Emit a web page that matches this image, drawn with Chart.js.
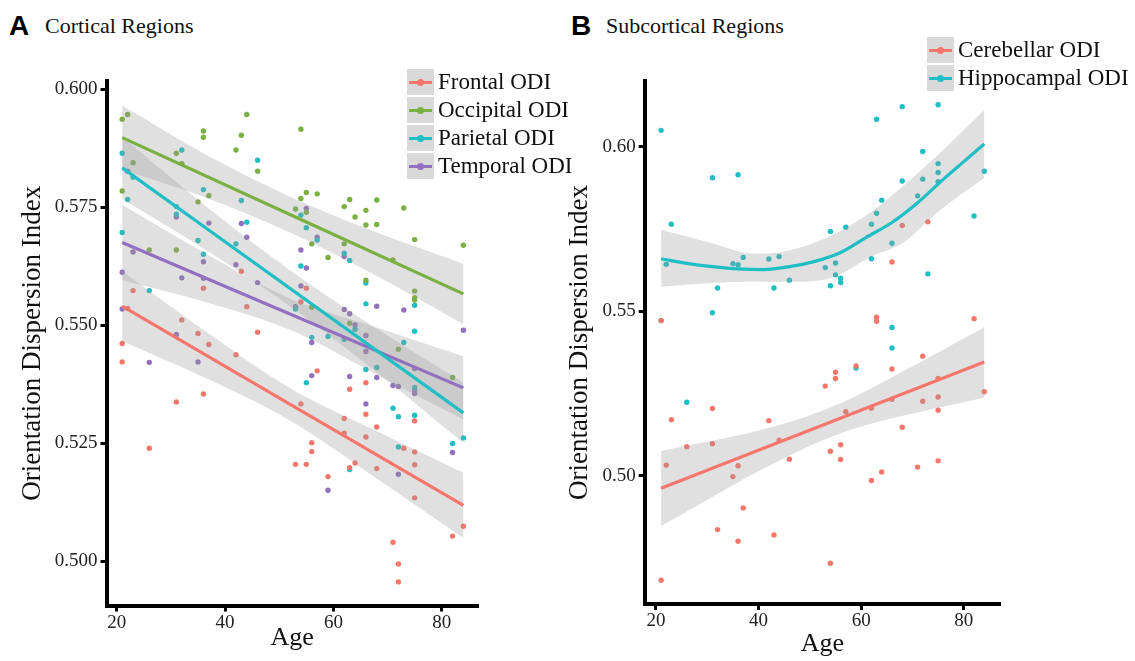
<!DOCTYPE html>
<html>
<head>
<meta charset="utf-8">
<script src="https://cdn.jsdelivr.net/npm/chart.js@4.4.1/dist/chart.umd.min.js"></script>
<style>
  body { margin: 0; background: #fff; width: 1135px; height: 661px; position: relative; overflow: hidden; font-family: "Liberation Serif", serif; }
  canvas { position: absolute; top: 0; }
  #chartA { left: 0; }
  #chartB { left: 540px; }
  .tag { position: absolute; font-family: "Liberation Sans", Arial, sans-serif; font-weight: bold; font-size: 28px; line-height: 28px; color: #000; }
  .ttl { position: absolute; font-size: 22px; line-height: 22px; color: #111; }
  .legend { position: absolute; }
  .key { display: flex; align-items: center; height: 28px; }
  .swatch { width: 27px; height: 26px; background: #d9d9d9; position: relative; margin-right: 4px; }
  .swatch i { position: absolute; left: 2px; right: 2px; top: 11.5px; height: 3px; }
  .swatch b { position: absolute; left: 10px; top: 9.5px; width: 7px; height: 7px; border-radius: 50%; }
  .key span { font-size: 23px; color: #111; white-space: nowrap; }
</style>
</head>
<body>
<div class="tag" style="left:9px;top:12px">A</div>
<div class="ttl" style="left:45px;top:15px">Cortical Regions</div>
<div class="tag" style="left:571px;top:12px">B</div>
<div class="ttl" style="left:606px;top:15px">Subcortical Regions</div>
<canvas id="chartA" width="500" height="661"></canvas>
<canvas id="chartB" width="595" height="661"></canvas>
<div class="legend" id="legendA" style="left:407px;top:68px"></div>
<div class="legend" id="legendB" style="left:927px;top:36px"></div>
<script>
const FONT = '"Liberation Serif", "Times New Roman", serif';

const ageTicks = [20, 40, 60, 80];
const odiTicksA = [0.500, 0.525, 0.550, 0.575, 0.600];
const odiTicksB = [0.50, 0.55, 0.60];

// ---- panel A: cortical regions ----
const corticalNames = ['Frontal ODI', 'Occipital ODI', 'Parietal ODI', 'Temporal ODI'];
const corticalColors = ['#F5776B', '#7AB042', '#20BEC5', '#9370BF'];

const frontalPts = [[21,0.5461],[21,0.5422],[22,0.5535],[23,0.5573],[26,0.5239],[31,0.5337],[32,0.5511],[35,0.5482],[36,0.5578],[36,0.5354],[37,0.5459],[42,0.5437],[43,0.5614],[44,0.5539],[46,0.5485],[53,0.5205],[54,0.5549],[54,0.5333],[55,0.5578],[55,0.5205],[56,0.5251],[56,0.5232],[57,0.5403],[59,0.5179],[62,0.5302],[62,0.5271],[63,0.5364],[63,0.5198],[64,0.5208],[66,0.5378],[66,0.5311],[66,0.5263],[68,0.5284],[68,0.5196],[71,0.5040],[72,0.4994],[72,0.4956],[73,0.5239],[75,0.5297],[75,0.5231],[75,0.5204],[75,0.5134],[82,0.5053],[84,0.5074]];
const occipitalPts = [[21,0.5936],[21,0.5784],[22,0.5946],[23,0.5844],[26,0.5659],[31,0.5864],[31,0.5659],[32,0.5842],[35,0.5761],[36,0.5911],[36,0.5898],[37,0.5774],[42,0.5871],[43,0.5902],[44,0.5946],[46,0.5826],[53,0.5746],[54,0.5915],[54,0.5768],[55,0.5781],[55,0.5739],[56,0.5672],[56,0.5538],[57,0.5778],[59,0.5643],[62,0.5751],[62,0.5672],[63,0.5766],[63,0.5504],[64,0.5729],[66,0.5743],[66,0.5712],[66,0.5595],[68,0.5765],[68,0.5713],[71,0.5638],[72,0.5449],[73,0.5748],[75,0.5681],[75,0.5572],[75,0.5558],[75,0.5553],[82,0.5389],[84,0.5669]];
const parietalPts = [[21,0.5864],[21,0.5696],[22,0.5766],[23,0.5813],[26,0.5573],[31,0.5751],[31,0.5735],[32,0.5871],[35,0.5679],[36,0.5787],[36,0.5650],[42,0.5672],[43,0.5764],[44,0.5718],[46,0.5849],[53,0.5534],[54,0.5733],[54,0.5625],[55,0.5706],[55,0.5378],[56,0.5474],[57,0.5680],[59,0.5476],[62,0.5652],[62,0.5470],[63,0.5637],[63,0.5194],[64,0.5491],[66,0.5589],[66,0.5545],[66,0.5406],[68,0.5410],[71,0.5324],[72,0.5306],[72,0.5242],[73,0.5463],[75,0.5542],[75,0.5487],[75,0.5368],[75,0.5309],[82,0.5249],[84,0.5261]];
const temporalPts = [[21,0.5612],[21,0.5534],[22,0.5826],[23,0.5655],[26,0.5421],[31,0.5729],[31,0.5480],[32,0.5600],[35,0.5422],[36,0.5634],[36,0.5599],[37,0.5716],[42,0.5628],[43,0.5715],[44,0.5686],[46,0.5590],[53,0.5539],[54,0.5659],[54,0.5583],[55,0.5747],[55,0.5621],[56,0.5463],[56,0.5393],[57,0.5686],[59,0.5150],[62,0.5645],[62,0.5533],[63,0.5524],[63,0.5391],[64,0.5500],[66,0.5478],[66,0.5444],[66,0.5333],[68,0.5540],[68,0.5389],[71,0.5372],[72,0.5370],[72,0.5184],[73,0.5532],[75,0.5408],[75,0.5361],[75,0.5355],[82,0.5230],[84,0.5489]];

// fitted lines (at both ends)
const frontalFit = [[21,0.5540],[84,0.5118]];
const occipitalFit = [[21,0.5897],[84,0.5566]];
const parietalFit = [[21,0.5833],[84,0.5314]];
const temporalFit = [[21,0.5675],[84,0.5367]];

// confidence bands
const bandAgesA = [21, 36, 52, 68, 84];
const frontalLo = [0.5466, 0.5390, 0.5298, 0.5175, 0.5049];
const frontalHi = [0.5614, 0.5490, 0.5366, 0.5275, 0.5187];
const occipitalLo = [0.5829, 0.5772, 0.5696, 0.5604, 0.5502];
const occipitalHi = [0.5965, 0.5864, 0.5772, 0.5696, 0.5630];
const parietalLo = [0.5767, 0.5662, 0.5540, 0.5400, 0.5250];
const parietalHi = [0.5899, 0.5756, 0.5616, 0.5492, 0.5378];
const temporalLo = [0.5595, 0.5550, 0.5490, 0.5395, 0.5300];
const temporalHi = [0.5755, 0.5654, 0.5556, 0.5495, 0.5434];

// ---- panel B: subcortical regions ----
const subcorticalNames = ['Cerebellar ODI', 'Hippocampal ODI'];
const subcorticalColors = ['#F5776B', '#20BEC5'];

const cerebellarPts = [[21,0.4683],[21,0.5472],[22,0.5033],[23,0.5171],[26,0.5089],[31,0.5205],[31,0.5098],[32,0.4837],[35,0.4998],[36,0.5031],[36,0.4802],[37,0.4903],[42,0.5168],[43,0.4821],[44,0.5109],[46,0.5051],[53,0.5273],[54,0.5075],[54,0.4735],[55,0.5315],[55,0.5296],[56,0.5095],[56,0.5050],[57,0.5195],[59,0.5334],[62,0.5206],[62,0.4986],[63,0.5482],[63,0.5470],[64,0.5012],[66,0.5650],[66,0.5325],[66,0.5233],[68,0.5761],[68,0.5148],[71,0.5027],[72,0.5364],[72,0.5227],[73,0.5772],[75,0.5296],[75,0.5240],[75,0.5200],[75,0.5046],[82,0.5478],[84,0.5256]];
const hippocampalPts = [[21,0.6050],[21,0.5472],[22,0.5643],[23,0.5765],[26,0.5224],[31,0.5906],[31,0.5496],[32,0.5571],[35,0.5645],[36,0.5915],[36,0.5642],[37,0.5664],[42,0.5659],[43,0.5571],[44,0.5667],[46,0.5595],[53,0.5633],[54,0.5743],[54,0.5578],[55,0.5647],[55,0.5611],[56,0.5601],[56,0.5588],[57,0.5756],[59,0.5328],[62,0.5765],[62,0.5660],[63,0.6084],[63,0.5798],[64,0.5838],[66,0.5707],[66,0.5451],[66,0.5389],[68,0.6122],[68,0.5896],[71,0.5851],[72,0.5986],[72,0.5902],[73,0.5614],[75,0.6128],[75,0.5949],[75,0.5922],[75,0.5894],[82,0.5790],[84,0.5926]];

const cerebellarFit = [[21,0.4963],[84,0.5346]];
const cerebellarBandAges = [21, 43, 56, 66, 84];
const cerebellarLo = [0.4848, 0.5039, 0.5130, 0.5175, 0.5238];
const cerebellarHi = [0.5076, 0.5150, 0.5221, 0.5300, 0.5452];

const hippocampalCurveAges = [21, 26, 31, 36, 41, 46, 51, 56, 61, 66, 71, 76, 80, 84];
const hippocampalCurve = [0.5660, 0.5646, 0.5636, 0.5629, 0.5627, 0.5636, 0.5652, 0.5679, 0.5725, 0.5770, 0.5830, 0.5901, 0.5955, 0.6009];
const hippocampalBandAges = [21, 31, 39, 46, 54, 62, 68, 75, 84];
const hippocampalLo = [0.5575, 0.5586, 0.5591, 0.5590, 0.5601, 0.5667, 0.5707, 0.5803, 0.5905];
const hippocampalHi = [0.5748, 0.5707, 0.5675, 0.5685, 0.5729, 0.5803, 0.5879, 0.5976, 0.6112];

const toXY = arr => arr.map(([x, y]) => ({ x, y }));
const zipXY = (xs, ys) => xs.map((x, i) => ({ x, y: ys[i] }));

function seriesDatasets(color, pts, fit, bandAges, lo, hi) {
  return [
    { data: toXY(pts), backgroundColor: color, borderWidth: 0, pointRadius: 2.7, showLine: false, order: 3 },
    { data: zipXY(bandAges, lo), showLine: true, borderWidth: 0, pointRadius: 0, fill: false,
      cubicInterpolationMode: 'monotone', order: 2 },
    { data: zipXY(bandAges, hi), showLine: true, borderWidth: 0, pointRadius: 0, fill: '-1',
      backgroundColor: 'rgba(153,153,153,0.3)', cubicInterpolationMode: 'monotone', order: 2 },
    { data: fit, showLine: true, borderColor: color, borderWidth: 3.2, pointRadius: 0,
      cubicInterpolationMode: 'monotone', order: 1 }
  ];
}

function axisOpts(extra) {
  return Object.assign({
    type: 'linear',
    border: { display: true, color: '#000', width: 4 },
    grid: { drawOnChartArea: false, drawTicks: true, tickLength: 6, tickWidth: 3, tickColor: '#000' },
  }, extra);
}

function makePanel(id, datasets, p) {
  return new Chart(document.getElementById(id), {
    type: 'scatter',
    data: { datasets },
    options: {
      responsive: false,
      animation: false,
      layout: { padding: { left: 0, top: p.top, right: p.right, bottom: 0 } },
      plugins: { legend: { display: false }, tooltip: { enabled: false } },
      scales: {
        x: axisOpts({
          min: p.xMin, max: p.xMax,
          afterFit: s => { s.height = p.xAxisH; },
          afterBuildTicks: s => { s.ticks = ageTicks.map(v => ({ value: v })); },
          ticks: { color: '#222', font: { family: FONT, size: 19 }, padding: 0 },
          title: { display: true, text: 'Age', color: '#111', font: { family: FONT, size: 26 },
                   padding: { top: 0, bottom: p.xTitlePad } }
        }),
        y: axisOpts({
          min: p.yMin, max: p.yMax,
          afterFit: s => { s.width = p.yAxisW; },
          afterBuildTicks: s => { s.ticks = p.yTicks.map(v => ({ value: v })); },
          ticks: { color: '#222', font: { family: FONT, size: 19 }, padding: 3,
                   callback: v => v.toFixed(p.dec) },
          title: { display: true, text: 'Orientation Dispersion Index', color: '#111',
                   font: { family: FONT, size: 27 }, padding: { top: p.yTitlePad, bottom: 0 } }
        })
      }
    }
  });
}

makePanel('chartA', [].concat(
  seriesDatasets(corticalColors[0], frontalPts, toXY(frontalFit), bandAgesA, frontalLo, frontalHi),
  seriesDatasets(corticalColors[1], occipitalPts, toXY(occipitalFit), bandAgesA, occipitalLo, occipitalHi),
  seriesDatasets(corticalColors[2], parietalPts, toXY(parietalFit), bandAgesA, parietalLo, parietalHi),
  seriesDatasets(corticalColors[3], temporalPts, toXY(temporalFit), bandAgesA, temporalLo, temporalHi)
), { top: 81, right: 22, xAxisH: 55.5, yAxisW: 106.5, xMin: 18.1, xMax: 86.7,
     yMin: 0.4906, yMax: 0.6017, yTicks: odiTicksA, dec: 3, xTitlePad: 7, yTitlePad: 17 });

makePanel('chartB', [].concat(
  seriesDatasets(subcorticalColors[0], cerebellarPts, toXY(cerebellarFit), cerebellarBandAges, cerebellarLo, cerebellarHi),
  seriesDatasets(subcorticalColors[1], hippocampalPts, zipXY(hippocampalCurveAges, hippocampalCurve), hippocampalBandAges, hippocampalLo, hippocampalHi)
), { top: 81, right: 135, xAxisH: 57, yAxisW: 104.7, xMin: 17.8, xMax: 87.06,
     yMin: 0.4611, yMax: 0.6200, yTicks: odiTicksB, dec: 2, xTitlePad: 1, yTitlePad: 24 });

function buildLegend(id, names, colors) {
  const box = document.getElementById(id);
  names.forEach((name, i) => {
    const row = document.createElement('div');
    row.className = 'key';
    row.innerHTML = '<div class="swatch"><i style="background:' + colors[i] + '"></i><b style="background:' + colors[i] + '"></b></div><span>' + name + '</span>';
    box.appendChild(row);
  });
}
buildLegend('legendA', corticalNames, corticalColors);
buildLegend('legendB', subcorticalNames, subcorticalColors);
</script>
</body>
</html>
